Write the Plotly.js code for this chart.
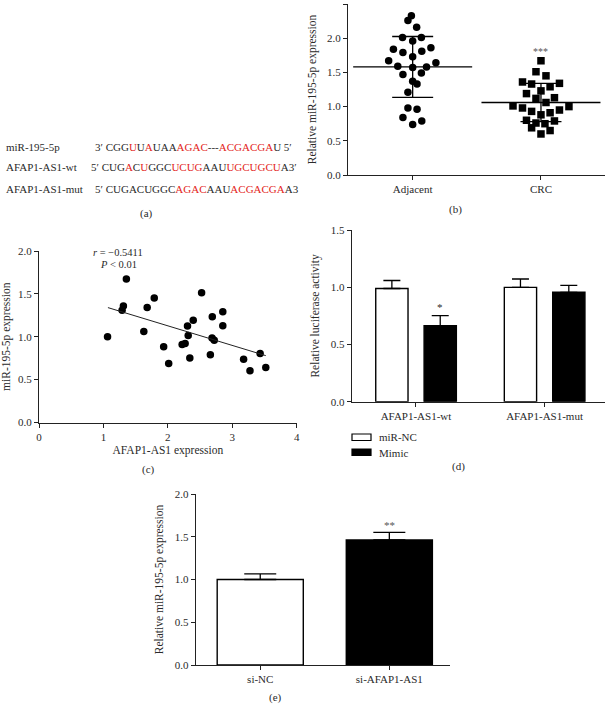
<!DOCTYPE html>
<html><head><meta charset="utf-8">
<script src="https://cdn.plot.ly/plotly-3.0.1.min.js"></script>
<style>body{margin:0;background:#fff}#chart{width:610px;height:705px}</style>
</head><body><div id="chart"></div>
<script>
// ---------- Panel (a): sequences (text, 1 = red / paired base) ----------
const seqLabels = ["miR-195-5p", "AFAP1-AS1-wt", "AFAP1-AS1-mut"];
const seqParts = [
  [["3′ CGG",0],["U",1],["U",0],["A",1],["UAA",0],["AGAC",1],["---",0],["ACGACGA",1],["U 5′",0]],
  [["5′ CUG",0],["A",1],["C",0],["U",1],["GGC",0],["UCUG",1],["AAU",0],["UGCUGCU",1],["A3′",0]],
  [["5′ CUGACUGGC",0],["AGAC",1],["AAU",0],["ACGACGA",1],["A3",0]]
];

// ---------- Panel (b): dot plot ----------
const groupCats = ["Adjacent", "CRC"];
const adjVals = [2.33,2.26,2.16,2.01,2.01,1.96,1.84,1.79,1.81,1.86,1.73,1.67,1.64,1.59,1.57,1.58,1.47,1.49,1.37,1.33,1.21,0.98,0.96,0.84,0.79,0.74];
const adjJitter = [-0.01,-0.037,0.031,-0.079,0.068,0,-0.15,-0.076,0.071,0.142,0,-0.187,0.181,-0.116,0,0.108,-0.076,0.068,0,0.034,-0.037,-0.037,0.034,-0.076,0.071,0];
const crcVals = [1.67,1.51,1.45,1.36,1.33,1.34,1.29,1.23,1.19,1.13,1.12,1.06,1.01,0.98,1.00,0.95,0.93,0.91,0.88,0.80,0.79,0.76,0.75,0.69,0.65,0.60];
const crcJitter = [0,-0.039,0.039,-0.144,-0.073,0.144,0.071,0,-0.113,0.105,-0.039,0.039,-0.218,-0.144,0.218,0.144,-0.073,0.071,0,-0.113,0.105,-0.039,0.031,-0.073,0.071,0];
const groupMeans = [1.58, 1.06];
const groupSD = [0.445, 0.28];

// ---------- Panel (c): correlation ----------
const afapExpr = [1.064,1.356,1.31,1.29,1.679,1.789,1.627,1.935,2.013,2.222,2.268,2.305,2.316,2.341,2.394,2.524,2.66,2.686,2.72,2.69,2.853,2.853,3.176,3.275,3.432,3.52];
const mirExpr  = [1.00,1.673,1.36,1.31,1.342,1.451,1.062,0.883,0.689,0.911,0.922,1.125,1.016,0.751,1.191,1.514,0.79,0.984,0.96,1.233,1.292,1.128,0.739,0.603,0.805,0.642];
const fitX = [1.07, 3.52];
const fitY = [1.34, 0.78];

// ---------- Panel (d): luciferase ----------
const lucCats = ["AFAP1-AS1-wt", "AFAP1-AS1-mut"];
const lucNC = [0.99, 1.0];
const lucNCerr = [0.07, 0.073];
const lucMimic = [0.665, 0.957];
const lucMimicErr = [0.087, 0.061];

// ---------- Panel (e): si-RNA ----------
const siCats = ["si-NC", "si-AFAP1-AS1"];
const siVals = [1.0, 1.462];
const siErr = [0.065, 0.09];

const FONT = "Liberation Serif, Times New Roman, serif";
const TXT = "#2a2a2a";
const RED = "#e3241b";
const W = 610, H = 705;
const px = x => x / W;
const py = y => 1 - y / H;

const traces = [];
// (b)
traces.push({x: adjJitter.map(j => 0 + j), y: adjVals, type: "scatter", mode: "markers",
  marker: {symbol: "circle", size: 7.5, color: "black"}, xaxis: "x", yaxis: "y", name: groupCats[0], showlegend: false, hoverinfo: "y"});
traces.push({x: crcJitter.map(j => 1 + j), y: crcVals, type: "scatter", mode: "markers",
  marker: {symbol: "square", size: 7.5, color: "black"}, xaxis: "x", yaxis: "y", name: groupCats[1], showlegend: false, hoverinfo: "y"});
traces.push({x: [0, 1], y: groupMeans, type: "scatter", mode: "markers",
  marker: {symbol: "line-ew", size: 85, color: "black", line: {width: 1.3, color: "black"}},
  error_y: {type: "data", array: groupSD, visible: true, thickness: 1.3, width: 20.5, color: "black"},
  xaxis: "x", yaxis: "y", showlegend: false, hoverinfo: "y"});
// (c)
traces.push({x: afapExpr, y: mirExpr, type: "scatter", mode: "markers",
  marker: {size: 7.5, color: "black"}, xaxis: "x2", yaxis: "y2", showlegend: false});
traces.push({x: fitX, y: fitY, type: "scatter", mode: "lines",
  line: {color: "#222", width: 1}, xaxis: "x2", yaxis: "y2", showlegend: false});
// (d)
traces.push({x: lucCats, y: lucNC, type: "bar", name: "miR-NC", offset: -0.313, width: 0.251,
  marker: {color: "white", line: {color: "black", width: 1.4}},
  error_y: {type: "data", array: lucNCerr, arrayminus: [0, 0], visible: true, thickness: 1.3, width: 8.5, color: "black"},
  xaxis: "x3", yaxis: "y3", showlegend: false});
traces.push({x: lucCats, y: lucMimic, type: "bar", name: "Mimic", offset: 0.063, width: 0.251,
  marker: {color: "black", line: {color: "black", width: 1.4}},
  error_y: {type: "data", array: lucMimicErr, arrayminus: [0, 0], visible: true, thickness: 1.3, width: 8.5, color: "black"},
  xaxis: "x3", yaxis: "y3", showlegend: false});
// (e)
traces.push({x: siCats, y: siVals, type: "bar", width: 0.667, offset: -0.3335,
  marker: {color: ["white", "black"], line: {color: "black", width: 1.4}},
  error_y: {type: "data", array: siErr, arrayminus: [0, 0], visible: true, thickness: 1.3, width: 16, color: "black"},
  xaxis: "x4", yaxis: "y4", showlegend: false});

const axBase = {showline: true, linecolor: "#222", linewidth: 1, ticks: "outside", ticklen: 4, tickwidth: 1,
  tickcolor: "#222", showgrid: false, zeroline: false, automargin: false,
  tickfont: {family: FONT, size: 11, color: TXT}};
const ttl = (t, s) => ({text: t, font: {family: FONT, size: 11.5, color: TXT}, standoff: s});

const layout = {
  width: W, height: H, margin: {l: 0, r: 0, t: 0, b: 0},
  paper_bgcolor: "white", plot_bgcolor: "white", showlegend: false, barmode: "group",
  font: {family: FONT, color: TXT},
  // (b)
  xaxis: Object.assign({}, axBase, {domain: [px(348), px(605)], range: [-0.504, 1.499],
    tickvals: [0, 1], ticktext: groupCats, anchor: "y"}),
  yaxis: Object.assign({}, axBase, {domain: [py(175), py(4)], range: [0, 2.5], dtick: 0.5,
    tickformat: ".1f", anchor: "x", title: ttl("Relative miR-195-5p expression", 8)}),
  // (c)
  xaxis2: Object.assign({}, axBase, {domain: [px(39), px(296.7)], range: [0, 4], dtick: 1, anchor: "y2",
    title: ttl("AFAP1-AS1 expression", 4)}),
  yaxis2: Object.assign({}, axBase, {domain: [py(422.5), py(251)], range: [0, 2], dtick: 0.5,
    tickformat: ".1f", anchor: "x2", title: ttl("miR-195-5p expression", 8)}),
  // (d)
  xaxis3: Object.assign({}, axBase, {domain: [px(351.7), px(605)], range: [-0.5, 1.47], type: "category", anchor: "y3"}),
  yaxis3: Object.assign({}, axBase, {domain: [py(401.7), py(230.2)], range: [0, 1.5], dtick: 0.5,
    tickformat: ".1f", anchor: "x3", title: ttl("Relative luciferase activity", 8)}),
  // (e)
  xaxis4: Object.assign({}, axBase, {domain: [px(195.7), px(450)], range: [-0.5, 1.47], type: "category", anchor: "y4"}),
  yaxis4: Object.assign({}, axBase, {domain: [py(665), py(494)], range: [0, 2], dtick: 0.5,
    tickformat: ".1f", anchor: "x4", title: ttl("Relative miR-195-5p expression", 8)}),
  shapes: [
    {type: "rect", xref: "paper", yref: "paper", x0: px(352), x1: px(371), y0: py(440.5), y1: py(434),
      fillcolor: "white", line: {color: "black", width: 1.2}},
    {type: "rect", xref: "paper", yref: "paper", x0: px(352), x1: px(371), y0: py(455.5), y1: py(449),
      fillcolor: "black", line: {color: "black", width: 1.2}}
  ],
  annotations: []
};

const ann = layout.annotations;
const addPaper = (text, x, y, opts) => ann.push(Object.assign({text: text, xref: "paper", yref: "paper",
  x: px(x), y: py(y), showarrow: false, xanchor: "center", yanchor: "middle",
  font: {family: FONT, size: 11, color: TXT}}, opts || {}));

// panel (a)
const seqX = [92.5, 88.5, 92.5];
const seqY = [147, 167.5, 189];
seqLabels.forEach((lab, i) => {
  addPaper(lab, 4, seqY[i], {xanchor: "left"});
  const html = seqParts[i].map(p => p[1] ? '<span style="color:' + RED + '">' + p[0] + '</span>' : p[0]).join("");
  addPaper(html, seqX[i], seqY[i], {xanchor: "left"});
});
// panel labels
addPaper("(a)", 146, 213);
addPaper("(b)", 455, 209);
addPaper("(c)", 148, 469);
addPaper("(d)", 458, 467);
addPaper("(e)", 275, 697);
// legend text (d)
addPaper("miR-NC", 377, 437.5, {xanchor: "left"});
addPaper("Mimic", 377, 452.5, {xanchor: "left"});
// significance marks
ann.push({text: "***", xref: "x", yref: "y", x: 1, y: 1.80, showarrow: false, font: {family: FONT, size: 10, color: "#555"}});
ann.push({text: "*", xref: "x3", yref: "y3", x: lucCats[0], xshift: 24.5, y: 0.83, showarrow: false, font: {family: FONT, size: 11, color: TXT}});
ann.push({text: "**", xref: "x4", yref: "y4", x: siCats[1], y: 1.64, showarrow: false, font: {family: FONT, size: 11, color: "#555"}});
// stats (c)
ann.push({text: "<i>r</i> = −0.5411", xref: "x2", yref: "y2", x: 1.23, y: 1.98, showarrow: false, font: {family: FONT, size: 10.5, color: TXT}});
ann.push({text: "<i>P</i> < 0.01", xref: "x2", yref: "y2", x: 1.24, y: 1.84, showarrow: false, font: {family: FONT, size: 10.5, color: TXT}});

Plotly.newPlot("chart", traces, layout, {staticPlot: true, displayModeBar: false});
</script>
</body></html>
